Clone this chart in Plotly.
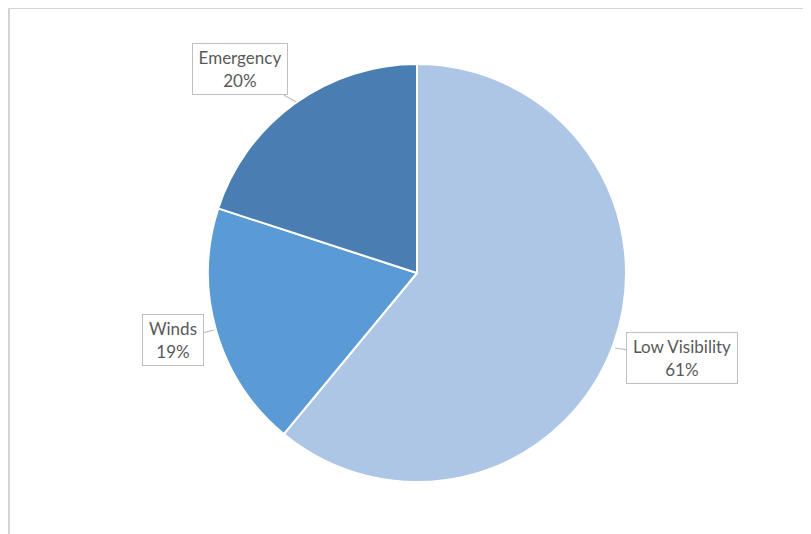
import plotly.graph_objects as go

W, H = 811, 534
OFF = 8  # page body margin offset in pixels

categories = ["Low Visibility", "Winds", "Emergency"]
values = [61, 19, 20]
colors = ["#AEC6E6", "#5B9BD5", "#4A7EB2"]

# pie geometry (pixels, page coordinates)
cx, cy, r = 417, 273, 209


def px(x):
    return (x - OFF) / W


def py(y):
    return 1 - (y - OFF) / H


fig = go.Figure(go.Pie(
    labels=categories,
    values=values,
    sort=False,
    direction="clockwise",
    rotation=0,
    textinfo="none",
    hoverinfo="label+percent",
    marker=dict(colors=colors, line=dict(color="white", width=2)),
    domain=dict(x=[px(cx - r), px(cx + r)],
                y=[py(cy + r), py(cy - r)]),
    showlegend=False,
))

total = sum(values)
pct = [round(v * 100 / total) for v in values]

# label layout: (tip x, tip y, box center x, box center y, box w, box h) in pixels
label_layout = {
    "Low Visibility": (615, 348, 681.5, 357.5, 110, 50),
    "Winds": (214, 330, 173, 340, 60, 50),
    "Emergency": (296, 102, 239.5, 69.5, 94, 50),
}

for cat, p in zip(categories, pct):
    tx, ty, bx, by, bw, bh = label_layout[cat]
    fig.add_annotation(
        xref="paper", yref="paper",
        x=px(tx), y=py(ty),
        ax=bx - tx, ay=by - ty,
        text=f"{cat}<br>{p}%",
        showarrow=True, arrowhead=0, arrowwidth=1.2, arrowcolor="#BFBFBF",
        font=dict(family="Lato", size=17, color="#595959"),
        bordercolor="#BFBFBF", borderwidth=1, borderpad=0,
        bgcolor="white", width=bw, height=bh, align="center",
    )

# chart area border (partially visible)
fig.add_shape(type="rect", xref="paper", yref="paper",
              x0=px(9), x1=1.05, y0=-0.05, y1=py(8),
              line=dict(color="#D4D4D4", width=2), fillcolor="rgba(0,0,0,0)",
              layer="below")

fig.update_layout(
    width=W, height=H,
    margin=dict(l=0, r=0, t=0, b=0),
    paper_bgcolor="white", plot_bgcolor="white",
)

fig.write_html("out.html")
